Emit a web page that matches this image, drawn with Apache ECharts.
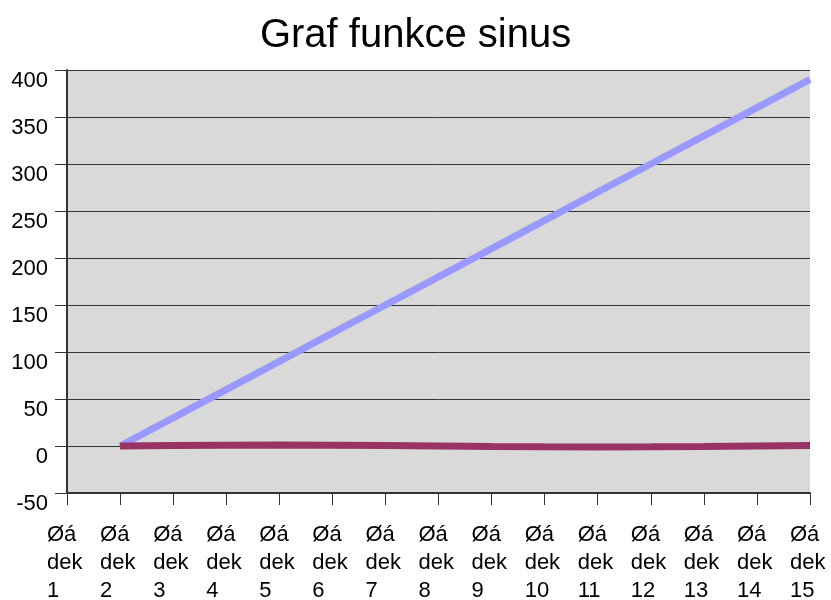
<!DOCTYPE html>
<html>
<head>
<meta charset="utf-8">
<script src="https://cdn.jsdelivr.net/npm/echarts@6/dist/echarts.min.js"></script>
<style>
  html, body { margin: 0; padding: 0; background: #fff; }
  #chart { width: 831px; height: 600px; }
</style>
</head>
<body>
<div id="chart"></div>
<script>
// data
var categories = ['Øá dek 1', 'Øá dek 2', 'Øá dek 3', 'Øá dek 4', 'Øá dek 5', 'Øá dek 6', 'Øá dek 7', 'Øá dek 8',
    'Øá dek 9', 'Øá dek 10', 'Øá dek 11', 'Øá dek 12', 'Øá dek 13', 'Øá dek 14', 'Øá dek 15'];
var uhel = ['-', 0, 30, 60, 90, 120, 150, 180, 210, 240, 270, 300, 330, 360, 390];
var sinus = ['-', 0, 0.5, 0.87, 1, 0.87, 0.5, 0, -0.5, -0.87, -1, -0.87, -0.5, 0, 0.5];

var myChart = echarts.init(document.getElementById('chart'));
var font = '"Liberation Sans", Arial, sans-serif';

myChart.setOption({
    animation: false,
    title: {
        text: 'Graf funkce sinus',
        left: 'center',
        top: 11,
        textStyle: { fontFamily: font, fontSize: 40, fontWeight: 'normal', color: '#000' }
    },
    grid: {
        left: 67, right: 21, top: 70, bottom: 107,
        outerBoundsMode: 'none',
        containLabel: false,
        show: true,
        backgroundColor: '#D9D9D9',
        borderWidth: 0
    },
    xAxis: {
        type: 'category',
        boundaryGap: false,
        data: categories,
        axisLine: { onZero: false, lineStyle: { color: '#333', width: 2 } },
        axisTick: { show: true, length: 12, interval: 0, lineStyle: { color: '#333', width: 1 } },
        axisLabel: {
            interval: 0,
            margin: 28,
            align: 'center',
            formatter: function (v) {
                return v.split(' ').map(function (s) { return '{a|' + s + '}'; }).join('\n');
            },
            rich: {
                a: { width: 40, align: 'left', fontFamily: font, fontSize: 22, lineHeight: 28, color: '#000' }
            }
        },
        splitLine: { show: false }
    },
    yAxis: {
        type: 'value',
        min: -50,
        max: 400,
        interval: 50,
        axisLine: { show: true, lineStyle: { color: '#333', width: 2 } },
        axisTick: { show: true, length: 12, lineStyle: { color: '#333', width: 1 } },
        axisLabel: {
            margin: 19,
            fontFamily: font,
            fontSize: 22,
            color: '#000',
            verticalAlign: 'top',
            lineHeight: 22
        },
        splitLine: { show: true, lineStyle: { color: '#333', width: 1 } }
    },
    series: [{
        name: 'uhel',
        type: 'line',
        data: uhel,
        symbol: 'none',
        lineStyle: { color: '#9999FF', width: 7 },
        itemStyle: { color: '#9999FF' }
    }, {
        name: 'sinus',
        type: 'line',
        data: sinus,
        symbol: 'none',
        lineStyle: { color: '#993366', width: 7 },
        itemStyle: { color: '#993366' }
    }]
});
</script>
</body>
</html>
